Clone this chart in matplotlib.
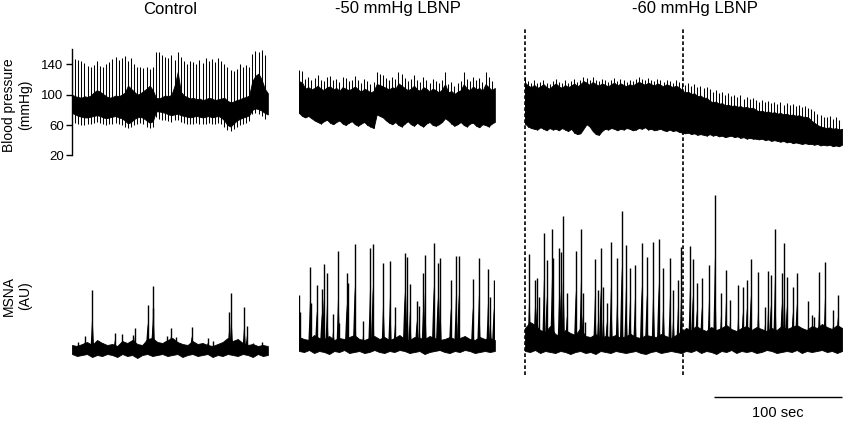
"""Blood pressure and MSNA traces during control and LBNP stages."""

import numpy as np
import matplotlib

matplotlib.use("Agg")
from matplotlib import pyplot as plt
from matplotlib.transforms import blended_transform_factory

plt.rcParams["font.family"] = ["Liberation Sans", "DejaVu Sans"]

# ---- data --------------------------------------------------------------
stage_titles = ["Control", "-50 mmHg LBNP", "-60 mmHg LBNP"]
stage_durations = [153.0, 153.0, 247.7]  # seconds

# blood pressure, one value per visible beat (mmHg)
control_sys = [158, 147, 146, 144, 142, 138, 137, 139, 145, 138, 136, 140, 143,
               147, 150, 146, 149, 151, 144, 148, 141, 137, 136, 135, 137, 134, 136,
               157, 156, 153, 150, 148, 152, 146, 156, 150, 144, 141, 145, 143, 140,
               146, 142, 148, 144, 147, 143, 149, 145, 141, 136, 133, 131, 134,
               140, 137, 139, 136, 154, 158, 156, 159, 152, 150]
control_top = [100, 98, 97, 96, 98, 97, 99, 103, 106, 104, 101, 98, 96,
               97, 99, 98, 100, 103, 112, 108, 104, 100, 102, 105, 108, 112, 106,
               96, 95, 97, 99, 98, 100, 112, 130, 104, 99, 97, 95, 96, 94,
               95, 93, 94, 96, 95, 93, 94, 95, 96, 92, 90, 91, 93,
               94, 96, 97, 99, 118, 125, 128, 120, 108, 102]
control_low = [76, 74, 72, 71, 70, 70, 71, 72, 73, 72, 70, 69, 70,
               71, 72, 70, 69, 66, 62, 64, 68, 70, 71, 69, 66, 63, 65,
               78, 78, 77, 76, 74, 73, 74, 75, 73, 72, 71, 70, 71, 72,
               71, 70, 71, 72, 70, 71, 72, 70, 66, 60, 58, 62, 66,
               68, 70, 71, 73, 80, 82, 81, 79, 76, 74]
control_dia = [66, 63, 61, 60, 60, 61, 62, 63, 64, 63, 61, 60, 62,
               62, 63, 61, 60, 58, 56, 57, 60, 62, 63, 61, 58, 56, 57,
               70, 68, 67, 66, 65, 64, 66, 66, 64, 63, 62, 61, 62, 63,
               62, 61, 62, 63, 61, 62, 63, 61, 57, 54, 52, 55, 58,
               60, 62, 63, 65, 74, 76, 74, 72, 68, 66]

lbnp50_sys = [132, 131, 121, 124, 119, 122, 126, 120, 118, 123, 125, 119, 121, 117,
              124, 122, 118, 120, 125, 119, 116, 121, 118, 114, 117, 130, 128, 126,
              122, 120, 124, 121, 130, 127, 122, 118, 121, 126, 119, 117, 123, 120,
              116, 121, 118, 115, 120, 130, 114, 117, 112, 116, 118, 130,
              121, 118, 124, 119, 122, 117, 130, 123, 118, 122]
lbnp50_top = [118, 116, 108, 110, 107, 109, 112, 108, 106, 110, 111, 107, 109, 105,
              110, 108, 106, 108, 111, 107, 104, 108, 106, 103, 105, 114, 113, 111,
              109, 107, 110, 108, 115, 112, 109, 106, 108, 112, 107, 105, 110, 108,
              104, 108, 106, 103, 107, 114, 103, 105, 101, 104, 106, 114,
              108, 106, 111, 107, 109, 105, 114, 110, 106, 109]
lbnp50_low = [76, 72, 70, 72, 69, 66, 64, 62, 65, 67, 63, 61, 64, 66, 62, 60, 63,
              65, 61, 59, 62, 64, 60, 58, 56, 74, 72, 70, 66, 63, 61, 64, 60, 58,
              62, 65, 61, 59, 63, 60, 58, 62, 64, 60, 59, 61, 64, 69, 66, 62, 59,
              61, 64, 60, 58, 62, 63, 59, 57, 61, 60, 58, 62, 64]

lbnp60_sys = [124, 118, 116, 119, 115, 117, 120, 116, 114, 118, 121, 117, 115, 119, 116,
              118, 121, 117, 120, 124, 122, 119, 123, 120, 118, 121, 119, 117, 120, 122,
              118, 121, 119, 117, 120, 118, 121,
              123, 121, 119, 122, 120, 118, 121, 119, 117, 120, 118, 116, 119, 117,
              116, 113, 115, 112, 114, 110, 112, 109, 110,
              107, 104, 106, 102, 104, 100, 102, 98, 100, 97, 99, 95, 97, 94, 96,
              93, 91, 93, 90, 92, 89, 91, 88, 90, 87, 89, 86, 88, 85, 87, 84, 85, 83,
              81, 78, 75, 73, 71, 70, 72, 68, 70, 67, 69]
lbnp60_top = [116, 112, 110, 113, 109, 111, 114, 110, 108, 112, 115, 111, 109, 113, 110,
              112, 115, 111, 114, 118, 116, 113, 117, 114, 112, 115, 113, 111, 114, 116,
              112, 115, 113, 111, 114, 112, 115,
              117, 115, 113, 116, 114, 112, 115, 113, 111, 114, 112, 110, 112, 110,
              106, 103, 104, 101, 102, 98, 99, 96, 96,
              92, 90, 91, 88, 89, 86, 87, 85, 86, 84, 85, 83, 84, 82, 83,
              80, 78, 79, 77, 78, 76, 77, 75, 76, 74, 75, 73, 74, 72, 73, 71, 71, 70,
              66, 63, 60, 58, 57, 56, 57, 55, 56, 54, 55]
lbnp60_low = [62, 58, 56, 55, 54, 57, 55, 53, 56, 54, 55, 53, 56, 54, 52,
              55, 50, 48, 49, 55, 61, 58, 52, 48, 47, 52, 55, 54, 56, 55, 53,
              55, 54, 56, 55, 53, 54,
              56, 55, 57, 54, 55, 53, 54, 55, 53, 52, 54, 52, 53, 51,
              50, 49, 50, 48, 49, 47, 48, 47, 46,
              48, 46, 47, 45, 46, 44, 45, 46, 44, 45, 43, 44, 42, 43, 42,
              42, 41, 42, 40, 41, 39, 40, 39, 38, 39, 37, 38, 36, 37, 36, 35, 36, 35,
              35, 34, 35, 33, 34, 33, 34, 32, 33, 32, 34]

# MSNA bursts: time (s) and peak (AU)
control_burst_t = [4.4, 10.2, 15.9, 21.9, 24.5, 33.6, 39.3, 47.9, 49.2, 59.1, 63.0,
                   63.5, 74.0, 77.1, 81.0, 93.5, 106.0, 110.4, 122.9, 124.5, 134.6,
                   136.7, 141.7, 148.2]
control_burst_h = [8, 14, 60, 7, 7, 17, 16, 15, 22, 45, 42, 64, 14, 22, 13, 23, 12, 9,
                   38, 57, 43, 24, 7, 8]
lbnp50_burst_t = [0.0, 0.8, 8.6, 9.4, 13.8, 17.7, 19.3, 21.9, 26.8, 30.7, 31.3, 37.2,
                  38.0, 43.5, 50.3, 55.5, 57.6, 65.9, 71.1, 75.0, 82.5, 84.4, 86.7,
                  91.9, 94.0, 97.1, 98.4, 105.2, 108.3, 110.2, 118.5, 122.7, 124.7,
                  135.7, 140.6, 147.7, 149.5, 152.1]
lbnp50_burst_h = [55, 38, 83, 47, 65, 61, 86, 77, 36, 99, 27, 77, 67, 106, 29, 102, 106,
                  87, 89, 43, 97, 93, 66, 49, 44, 77, 95, 107, 87, 92, 70, 94, 94, 71,
                  92, 81, 53, 70]
lbnp60_burst_t = [3.4, 7.8, 9.1, 11.2, 14.8, 16.9, 21.1, 22.1, 26.8, 27.9, 29.9, 32.6,
                  39.6, 43.8, 45.1, 47.1, 54.7, 57.3, 59.1, 61.2, 63.8, 67.2, 72.1,
                  75.5, 78.9, 82.0, 85.9, 91.1, 95.1, 100.3, 104.4, 108.1, 113.3,
                  115.9, 119.5, 122.1, 128.9, 131.0, 134.1, 138.0, 143.8, 148.4,
                  153.1, 157.0, 160.2, 166.7, 170.1, 173.2, 176.3, 182.3, 187.5,
                  190.1, 191.9, 195.3, 200.5, 202.6, 204.4, 209.1, 212.2, 221.4,
                  224.0, 226.0, 229.9, 234.4, 240.4, 244.3, 245.6]
lbnp60_burst_h = [96, 70, 72, 53, 117, 90, 121, 92, 102, 98, 134, 57, 99, 121, 57, 28,
                  91, 60, 102, 63, 47, 108, 92, 139, 105, 82, 85, 107, 93, 108, 111,
                  82, 92, 60, 70, 103, 104, 91, 67, 72, 85, 155, 57, 80, 50, 65, 63,
                  70, 91, 78, 43, 79, 75, 121, 77, 107, 73, 63, 77, 49, 35, 33, 78,
                  88, 40, 55, 23]

# MSNA baseline noise envelope (AU)
control_band_hi = [5, 4, 6, 8, 5, 10, 7, 5, 6, 4, 9, 7, 10, 6, 5, 11, 12, 8, 7, 10,
                   12, 8, 6, 5, 9, 6, 7, 5, 4, 6, 8, 12, 9, 11, 7, 5, 6, 4, 5, 4]
control_band_lo = [-4, -6, -5, -4, -7, -5, -6, -4, -5, -7, -4, -6, -5, -8, -5, -4, -6,
                   -5, -4, -6, -5, -4, -7, -5, -4, -6, -5, -4, -7, -5, -6, -4, -5, -6,
                   -4, -5, -7, -4, -6, -5]
lbnp50_band_hi = [13, 11, 10, 15, 12, 11, 14, 10, 12, 11, 13, 15, 11, 10, 12, 14, 11,
                  13, 10, 12, 15, 11, 10, 13, 12, 11, 14, 12, 10, 11, 13, 11, 12, 14,
                  11, 10, 13, 11, 12, 10]
lbnp50_band_lo = [-1, -2, 0, -3, -1, -2, -4, -1, -2, 0, -3, -2, -1, -3, -2, 0, -2,
                  -3, -1, -2, 0, -1, -3, -2, -1, -4, -2, -1, 0, -2, -3, -1, -2, 0,
                  -1, -3, -2, -1, -2, -1]
lbnp60_band_hi = [22, 28, 25, 20, 18, 24, 16, 14, 20, 17, 15, 22, 14, 13, 16, 12, 14,
                  13, 15, 12, 14, 16, 13, 12, 15, 14, 13, 16, 14, 12, 15, 18,
                  22, 20, 24, 21, 19, 23, 20, 22, 25, 21, 19, 22, 24, 20, 23, 21, 19,
                  22, 20, 24, 21, 23, 25, 22, 20, 24, 22, 26, 23, 21, 25, 22]
lbnp60_band_lo = [-1, -2, 0, -3, -1, -2, -3, -1, -2, -4, -2, -1, -3, -2, -4, -1, -2,
                  -3, -1, -2, -3, -2, -1, -3, -4, -2, -1, -3, -2, -1, -2, -3,
                  -1, -2, 0, -3, -1, -2, -4, -1, -2, 0, -3, -1, -2, -1, -3, -2, 0, -1,
                  -3, -2, -1, -2, 0, -3, -1, -2, -1, 0, -2, -1, -3, -1]

lbnp60_markers = [0.0, 123.7]  # seconds into -60 mmHg stage
scale_bar_sec = 100

# ---- layout (pixels of an 843 x 421 canvas) ----------------------------
FIG_W, FIG_H = 843, 421
PX_PER_SEC = 1.28
COLUMN_LEFT = [72, 299, 525]
BP_YLIM = (15, 165)
BP_TOP, BP_BOTTOM = 45.5, 159.1
MSNA_YLIM = (-20, 170)
MSNA_TOP, MSNA_BOTTOM = 180, 370


def _add_axes(fig, left, top, width, height):
    return fig.add_axes([left / FIG_W, 1 - (top + height) / FIG_H,
                         width / FIG_W, height / FIG_H])


def _bare(ax, duration, ylim):
    ax.set_xlim(0, duration)
    ax.set_ylim(*ylim)
    for spine in ax.spines.values():
        spine.set_visible(False)
    ax.set_xticks([])
    ax.set_yticks([])
    ax.patch.set_alpha(0)


def draw_bp(ax, duration, sys, top, low, dia=None):
    t = np.linspace(0, duration, len(sys))
    ax.fill_between(t, low, top, color="black", linewidth=0.6, edgecolor="black")
    bottoms = low if dia is None else dia
    ax.vlines(t, bottoms, sys, color="black", linewidth=0.75)


def draw_msna(ax, duration, burst_t, burst_h, band_hi, band_lo):
    tb = np.linspace(0, duration, len(band_hi))
    ax.fill_between(tb, band_lo, band_hi, color="black", linewidth=0.6, edgecolor="black")
    ax.vlines(burst_t, 0, burst_h, color="black", linewidth=1.0)
    half = 1.5
    for t_peak, h in zip(burst_t, burst_h):
        ax.fill([t_peak - half, t_peak, t_peak + half], [0, 0.6 * h, 0],
                color="black", linewidth=0)


fig = plt.figure(figsize=(FIG_W / 100, FIG_H / 100), dpi=100)

bp_data = [
    (control_sys, control_top, control_low, control_dia),
    (lbnp50_sys, lbnp50_top, lbnp50_low, None),
    (lbnp60_sys, lbnp60_top, lbnp60_low, None),
]
msna_data = [
    (control_burst_t, control_burst_h, control_band_hi, control_band_lo),
    (lbnp50_burst_t, lbnp50_burst_h, lbnp50_band_hi, lbnp50_band_lo),
    (lbnp60_burst_t, lbnp60_burst_h, lbnp60_band_hi, lbnp60_band_lo),
]

bp_axes, msna_axes = [], []
for left, duration, bp, msna in zip(COLUMN_LEFT, stage_durations, bp_data, msna_data):
    width = duration * PX_PER_SEC
    ax_bp = _add_axes(fig, left, BP_TOP, width, BP_BOTTOM - BP_TOP)
    _bare(ax_bp, duration, BP_YLIM)
    draw_bp(ax_bp, duration, *bp)
    ax_ms = _add_axes(fig, left, MSNA_TOP, width, MSNA_BOTTOM - MSNA_TOP)
    _bare(ax_ms, duration, MSNA_YLIM)
    draw_msna(ax_ms, duration, *msna)
    bp_axes.append(ax_bp)
    msna_axes.append(ax_ms)

# pressure axis on the control panel only
ax0 = bp_axes[0]
ax0.spines["left"].set_visible(True)
ax0.spines["left"].set_bounds(20, 160)
ax0.spines["left"].set_linewidth(1.0)
ax0.set_yticks([20, 60, 100, 140])
ax0.tick_params(axis="y", length=4, width=1.0, pad=2, labelsize=9.5)

# stage titles and row labels
title_x = [170, 398, 695]
for x, title in zip(title_x, stage_titles):
    fig.text(x / FIG_W, 1 - 9 / FIG_H, title, ha="center", va="center", fontsize=12)
fig.text(17 / FIG_W, 1 - 105 / FIG_H, "Blood pressure\n(mmHg)", rotation=90,
         ha="center", va="center", fontsize=10, linespacing=1.25)
fig.text(17 / FIG_W, 1 - 296 / FIG_H, "MSNA\n(AU)", rotation=90,
         ha="center", va="center", fontsize=10, linespacing=1.25)

# dashed stage markers across both rows of the -60 column
marker_tf = blended_transform_factory(msna_axes[2].transData, fig.transFigure)
for t_mark in lbnp60_markers:
    fig.add_artist(plt.Line2D([t_mark, t_mark], [1 - 375 / FIG_H, 1 - 28 / FIG_H],
                              transform=marker_tf, color="black", linewidth=1.2,
                              linestyle=(0, (2.2, 1.4))))

# time scale bar
ax_sb = msna_axes[2]
end = stage_durations[2]
ax_sb.hlines(-47, end - scale_bar_sec, end, color="black", linewidth=1.0, clip_on=False)
ax_sb.text(end - scale_bar_sec / 2, -63, f"{scale_bar_sec} sec", ha="center",
           va="center", fontsize=10.5, clip_on=False)

fig.savefig("out.png", dpi=100)
